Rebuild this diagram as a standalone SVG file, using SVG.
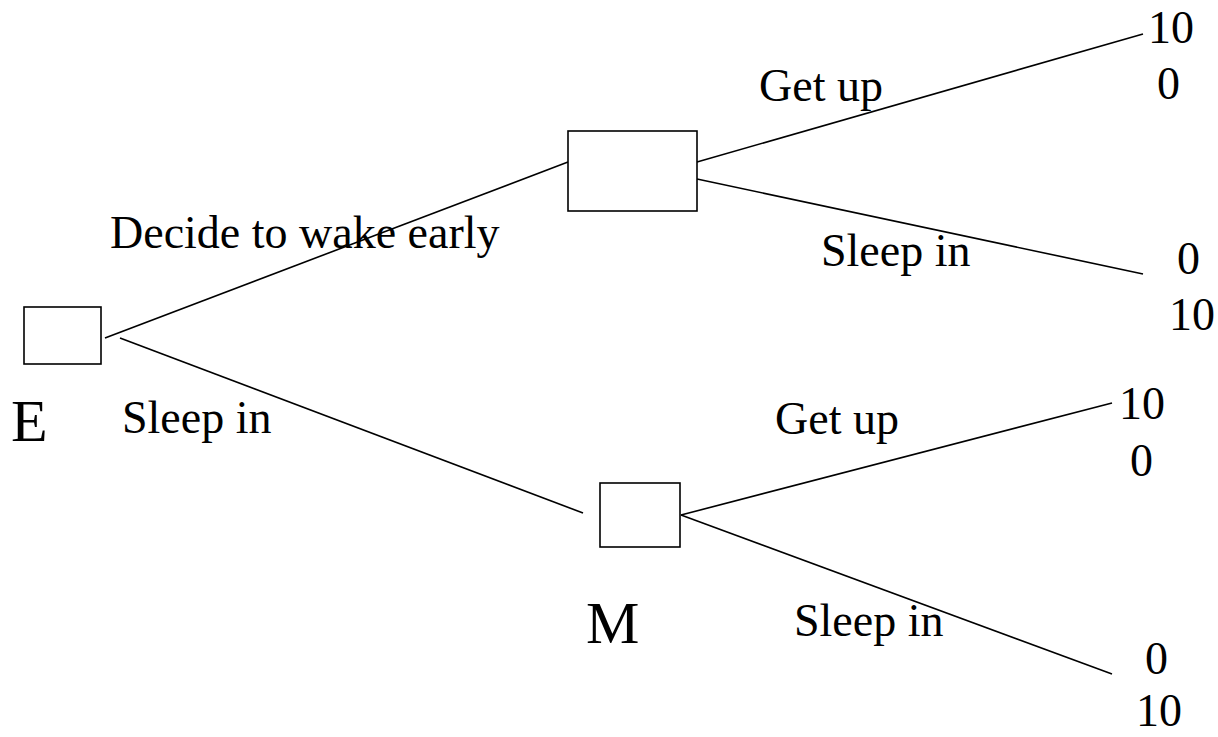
<svg xmlns="http://www.w3.org/2000/svg" width="1218" height="737" viewBox="0 0 1218 737">
  <style>
    .node { fill: #ffffff; stroke: #000000; stroke-width: 1.6; }
    .edge { stroke: #000000; stroke-width: 1.6; fill: none; }
    text { font-family: "Liberation Serif", "Times New Roman", serif; fill: #000000; }
    .lbl { font-size: 46px; }
    .pay { font-size: 46px; }
    .player { font-size: 60px; }
  </style>
  <rect width="1218" height="737" fill="#ffffff"/>

  <g id="connectors">
    <line class="edge" x1="105" y1="338" x2="568" y2="162"/>
    <line class="edge" x1="120" y1="338" x2="583" y2="513"/>
    <line class="edge" x1="697" y1="162" x2="1143" y2="34"/>
    <line class="edge" x1="697" y1="179" x2="1143" y2="274"/>
    <line class="edge" x1="681" y1="515" x2="1112" y2="403"/>
    <line class="edge" x1="681" y1="515" x2="1112" y2="674"/>
  </g>

  <g id="node-E">
    <rect class="node" x="24" y="307" width="77" height="57"/>
    <text class="player" x="11" y="441">E</text>
  </g>

  <g id="node-top">
    <rect class="node" x="568" y="131" width="129" height="80"/>
  </g>

  <g id="node-M">
    <rect class="node" x="600" y="483" width="80" height="64"/>
    <text class="player" x="586" y="643">M</text>
  </g>

  <g id="labels">
    <text class="lbl" x="110" y="248">Decide to wake early</text>
    <text class="lbl" x="122" y="433">Sleep in</text>
    <text class="lbl" x="759" y="101">Get up</text>
    <text class="lbl" x="821" y="266">Sleep in</text>
    <text class="lbl" x="775" y="434">Get up</text>
    <text class="lbl" x="794" y="636">Sleep in</text>
  </g>

  <g id="payoffs">
    <text class="pay" x="1148" y="43">10</text>
    <text class="pay" x="1157" y="99">0</text>
    <text class="pay" x="1177" y="274">0</text>
    <text class="pay" x="1169" y="330">10</text>
    <text class="pay" x="1119" y="419">10</text>
    <text class="pay" x="1130" y="476">0</text>
    <text class="pay" x="1145" y="674">0</text>
    <text class="pay" x="1136" y="726">10</text>
  </g>
</svg>
